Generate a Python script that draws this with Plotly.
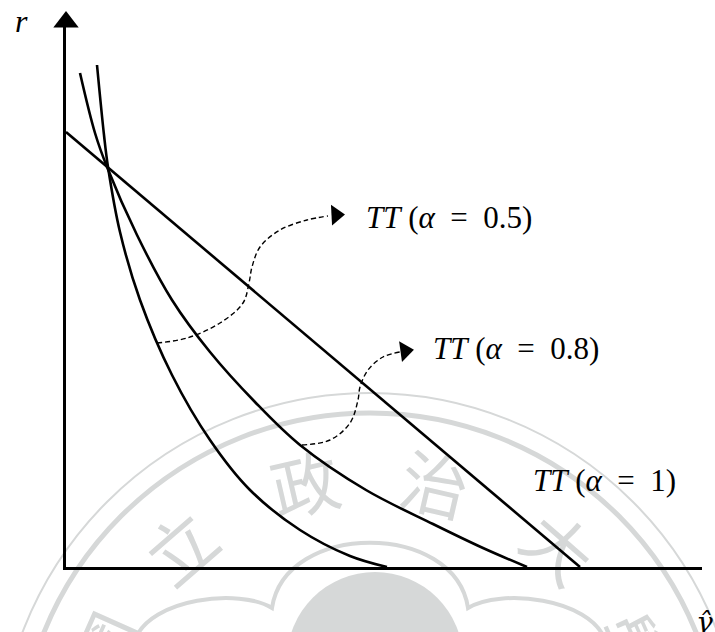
import math
import plotly.graph_objects as go

# ---------------------------------------------------------------
# TT schedules in the (gamma-hat, r) plane
# ---------------------------------------------------------------
tt1_y = [0.00, 5.14]
tt1_r = [4.35, 0.00]

tt08_y = [0.14, 0.29, 0.41, 0.71, 1.06, 1.44, 1.89, 2.34, 3.00, 3.67, 4.17, 4.61]
tt08_r = [4.94, 4.34, 4.00, 3.32, 2.67, 2.15, 1.65, 1.22, 0.77, 0.43, 0.19, 0.00]

tt05_y = [0.31, 0.38, 0.42, 0.54, 0.74, 1.06, 1.44, 1.84, 2.34, 2.84, 3.21]
tt05_r = [5.02, 4.32, 4.00, 3.35, 2.67, 1.92, 1.27, 0.77, 0.37, 0.11, 0.00]

# dashed leaders from the curves to their labels
lead05_y = [0.91, 1.21, 1.54, 1.77, 1.83, 1.86, 1.94, 2.14, 2.41, 2.62]
lead05_r = [2.24, 2.29, 2.44, 2.64, 2.84, 3.00, 3.20, 3.37, 3.47, 3.51]
lead08_y = [2.36, 2.64, 2.84, 2.92, 2.94, 3.02, 3.17, 3.34]
lead08_r = [1.22, 1.27, 1.44, 1.67, 1.80, 1.97, 2.10, 2.15]

labels = ["<i>TT</i> (<i>α</i>\u2002=\u20020.5)",
          "<i>TT</i> (<i>α</i>\u2002=\u20020.8)",
          "<i>TT</i> (<i>α</i>\u2002=\u20021)"]
label_y = [2.98, 3.65, 4.65]
label_r = [3.50, 2.19, 0.87]

X_MAX, Y_MAX = 6.36, 5.45

# figure geometry (pixels)
W, H = 715, 632
ML, MB, MR, MT = 66, 65, 13, 22
PW, PH = W - ML - MR, H - MT - MB


def paper(px, py):
    """Figure pixel position -> paper coordinates of the plot area."""
    return (px - ML) / PW, (H - MB - py) / PH


BLACK = "#000000"
SEAL = "rgb(214,216,216)"
SERIF = "Liberation Serif"

fig = go.Figure()

# curves
fig.add_trace(go.Scatter(x=tt05_y, y=tt05_r, mode="lines", line_shape="spline",
                         line=dict(color=BLACK, width=2.6), hoverinfo="skip"))
fig.add_trace(go.Scatter(x=tt08_y, y=tt08_r, mode="lines", line_shape="spline",
                         line=dict(color=BLACK, width=2.6), hoverinfo="skip"))
fig.add_trace(go.Scatter(x=tt1_y, y=tt1_r, mode="lines",
                         line=dict(color=BLACK, width=2.6), hoverinfo="skip"))

for ly, lr in ((lead05_y, lead05_r), (lead08_y, lead08_r)):
    fig.add_trace(go.Scatter(x=ly, y=lr, mode="lines", line_shape="spline",
                             line=dict(color=BLACK, width=1.4, dash="5px,3px"),
                             hoverinfo="skip"))

# arrow heads: y axis, x axis, two leaders
fig.add_trace(go.Scatter(
    x=[0, X_MAX + 0.02, 2.70, 3.39],
    y=[Y_MAX, 0, 3.52, 2.16],
    mode="markers", cliponaxis=False, hoverinfo="skip",
    marker=dict(symbol=["triangle-up", "triangle-right", "triangle-right", "triangle-right"],
                size=[22, 22, 18, 18], angle=[0, 0, -3, -8], opacity=1,
                color=BLACK, line=dict(width=0)),
))

shapes = []


def circle(cx, cy, r, **kw):
    x0, y1 = paper(cx - r, cy - r)
    x1, y0 = paper(cx + r, cy + r)
    shapes.append(dict(type="circle", xref="paper", yref="paper",
                       x0=x0, x1=x1, y0=y0, y1=y1, layer="below", **kw))


# university seal in the background
circle(370, 765, 372, line=dict(color=SEAL, width=2))
circle(370, 765, 352, line=dict(color=SEAL, width=5))
circle(375, 660, 88, fillcolor=SEAL, line=dict(width=0))

scallop = [(135, 640),
           (150, 598), (240, 588), (272, 608),
           (285, 521), (455, 521), (468, 608),
           (500, 588), (590, 598), (605, 640)]
pts = ["%.4f,%.4f" % paper(*p) for p in scallop]
path = "M" + pts[0] + " C" + " ".join(pts[1:4]) + " C" + " ".join(pts[4:7]) + " C" + " ".join(pts[7:10])
shapes.append(dict(type="path", xref="paper", yref="paper", path=path, layer="below",
                   line=dict(color=SEAL, width=4)))

# seal lettering, drawn as shape labels so it stays beneath the curves
seal_chars = ["國", "立", "政", "治", "大", "學"]
seal_angle = [-66, -41, -13, 13, 41, 66]
for ch, ang in zip(seal_chars, seal_angle):
    px = 370 + 280 * math.sin(math.radians(ang))
    py = 765 - 280 * math.cos(math.radians(ang))
    xa, ya = paper(px - 1, py + 1)
    xb, yb = paper(px + 1, py - 1)
    shapes.append(dict(type="rect", xref="paper", yref="paper", layer="below",
                       x0=xa, x1=xb, y0=ya, y1=yb, line=dict(width=0),
                       fillcolor="rgba(0,0,0,0)",
                       label=dict(text=ch, textangle=ang, textposition="middle center",
                                  padding=0,
                                  font=dict(family="Noto Sans CJK TC", size=68, color=SEAL))))

annotations = []
for t, ly, lr in zip(labels, label_y, label_r):
    annotations.append(dict(x=ly, y=lr, xref="x", yref="y", text=t, showarrow=False,
                            xanchor="left", yanchor="middle",
                            font=dict(family=SERIF, size=31, color=BLACK)))

xp, yp = paper(21, 21)
annotations.append(dict(x=xp, y=yp, xref="paper", yref="paper", text="<i>r</i>",
                        showarrow=False, xanchor="center", yanchor="middle",
                        font=dict(family=SERIF, size=32, color=BLACK)))
# gamma-hat axis title
xp, yp = paper(704, 622)
annotations.append(dict(x=xp, y=yp, xref="paper", yref="paper", text="<i>γ\u0302</i>",
                        showarrow=False, xanchor="center", yanchor="middle",
                        font=dict(family="DejaVu Serif", size=28, color=BLACK)))

axis_common = dict(showgrid=False, zeroline=False, showticklabels=False, ticks="",
                   showline=True, linecolor=BLACK, linewidth=3, fixedrange=True)

fig.update_layout(
    width=W, height=H,
    margin=dict(l=ML, r=MR, t=MT, b=MB, pad=0),
    paper_bgcolor="white", plot_bgcolor="rgba(0,0,0,0)",
    showlegend=False,
    xaxis=dict(range=[0, X_MAX], **axis_common),
    yaxis=dict(range=[0, Y_MAX], **axis_common),
    shapes=shapes, annotations=annotations,
)

fig.write_html("out.html")
